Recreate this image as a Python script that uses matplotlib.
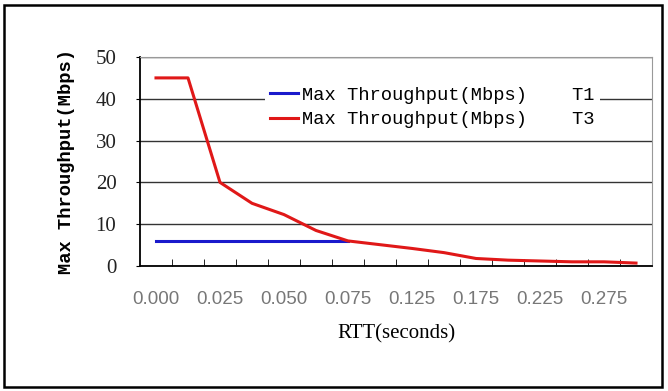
import numpy as np
import matplotlib
matplotlib.use('Agg')
from matplotlib import pyplot as plt
from matplotlib.patches import Rectangle

# RTT categories (Excel category axis, every other one labelled)
rtt = ['0.000', '0.010', '0.025', '0.040', '0.050', '0.060', '0.075', '0.100',
       '0.125', '0.150', '0.175', '0.200', '0.225', '0.250', '0.275', '0.300']
t1 = [6, 6, 6, 6, 6, 6, 6, np.nan, np.nan, np.nan, np.nan, np.nan, np.nan, np.nan, np.nan, np.nan]
t3 = [45, 45, 20, 15, 12.3, 8.5, 6, 5.1, 4.2, 3.2, 1.8, 1.4, 1.2, 1.0, 1.0, 0.7]

x = np.arange(len(rtt))

fig = plt.figure(figsize=(6.68, 3.91), dpi=100)
ax = fig.add_axes([140 / 668, 1 - 266 / 391, (652 - 140) / 668, (266 - 57) / 391])

ax.plot(x, t1, color='#1a1acc', lw=2.2, label='Max Throughput(Mbps)    T1')
ax.plot(x, t3, color='#e01818', lw=2.2, label='Max Throughput(Mbps)    T3')

ax.set_xlim(-0.5, len(rtt) - 0.5)
ax.set_ylim(0, 50)
ax.set_yticks([0, 10, 20, 30, 40, 50])
ax.yaxis.grid(True, color='#333333', lw=1)
ax.set_axisbelow(True)

# labels on every other category, tick marks between categories
ax.set_xticks(x[::2])
ax.set_xticklabels(rtt[::2], color='#777777', fontsize=13.5, family='Liberation Sans')
ax.set_xticks(np.arange(0.5, len(rtt) - 0.5, 1), minor=True)
ax.tick_params(axis='x', which='major', length=0, pad=18)
ax.tick_params(axis='x', which='minor', direction='in', length=5, color='black')
ax.tick_params(axis='y', length=3, pad=14, labelsize=15)
for lab in ax.get_yticklabels():
    lab.set_family('Liberation Serif')
    lab.set_color('#222222')

for s in ['top', 'right']:
    ax.spines[s].set_color('#999999')
for s in ['left', 'bottom']:
    ax.spines[s].set_color('black')
    ax.spines[s].set_linewidth(1.3)

ax.set_xlabel('RTT(seconds)', fontsize=15, family='Liberation Serif', labelpad=12)
ax.set_ylabel('Max Throughput(Mbps)', fontsize=13.5, family='Liberation Mono',
              fontweight='bold', labelpad=15)

leg = ax.legend(loc='upper left', bbox_to_anchor=(0.225, 0.93), frameon=True,
                prop={'family': 'Liberation Mono', 'size': 13.5},
                handlelength=1.5, handletextpad=0.2, labelspacing=0.4,
                borderpad=0.3, fancybox=False)
leg.get_frame().set_edgecolor('none')
leg.get_frame().set_facecolor('white')
leg.get_frame().set_alpha(1)

# outer chart border
fig.patches.append(Rectangle((4 / 668, 4 / 391), 658 / 668, 382 / 391,
                             transform=fig.transFigure, fill=False,
                             edgecolor='black', lw=1.8))

plt.savefig('out.png', dpi=100)
